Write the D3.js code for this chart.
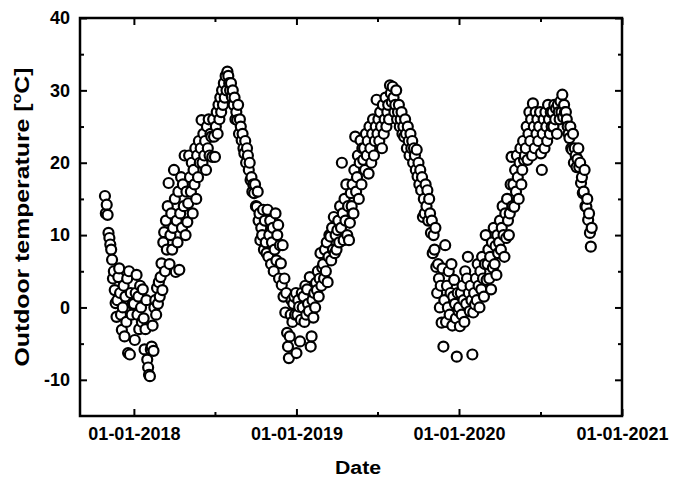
<!DOCTYPE html>
<html>
<head>
<meta charset="utf-8">
<script src="https://cdn.jsdelivr.net/npm/d3@7/dist/d3.min.js"></script>
<style>
html,body{margin:0;padding:0;background:#fff;}
svg{display:block;}
text{font-family:"Liberation Sans",Arial,sans-serif;font-weight:bold;fill:#000;}
</style>
</head>
<body>
<svg id="chart" width="673" height="477"></svg>
<script>
// ---- data: daily outdoor temperature, one reading every 2 days ----
const stepDays = 2;
const start2017 = "2017-10-28";
const temps2017 = [15.4,13,14.2,12.8,10.3,9.6,8.7,8,6.6,4,5,2.4,0.6,-1.3,1,4.2,5.4,2,-1,-3.1,0,3,-4,1.5,-2,4,-6.3,5,-6.5,2,-1,0.5];
const start2018 = "2018-01-01";
const temps2018 = [
0.5,-4.5,2,4.5,-1,1.5,-3,3,0,-2,2.5,-1.5,-5.8,-3,1,
-7.2,-8.3,-9.3,-9.5,-5.8,-5.4,-2.5,-6,0,1,-1,2.7,0.5,3.5,1.5,
4.2,6.1,2.4,9,10.4,5,12,8,14,17.2,6,10,13,8,11,
19,15,4.9,12,9,16,5.2,13,18,11,17,14,21,10,16,
11.8,14.4,21,18,16,20,13,19,17,22,15,21,18,23,20,
22,25.9,20,24,21,23,19,25,22,26,21,24,23.6,20.8,26,
23.6,20.8,25,27,24,28,26,29,27,30,28,31,29,32,30,
32.6,32,31,30,31,29.1,30,28,29,26,27,25.9,28,24,26,
25,23.1,24,22,21.3,23,20,22,21,19,20,17.6,18,16,17,
15.8,17,14,13.9,16,12,13,9.3,11,10,13.5,8,12,9,7.5,
13.5,7,10,12,6,9,11,5,8,13,6.5,10,11.4,4,8.6,
6.1,3.1,8.6,1.5,4,-0.7,2,-3.5,-5.4,-7,-4,-1,1,-2,0.5,
1.5,-1,2];
const start2019 = "2019-01-01";
const temps2019 = [
-6.3,-1,1,0.1,-4.7,-1.7,2,0,1.5,-2,3,-1,2.5,0.5,-0.5,
4.2,-5.4,-4,1,-1.4,2,0,3.4,2.4,5,1.5,4,7.5,3,5.5,
6,4,8,5,9,3.5,7,10,9.8,6.5,11,8,12.5,7.5,10,
8,10.7,12,9,14,11,20,13,9.3,15,12,17,10,14,9.3,
11.7,15.8,14,17,13,19,23.6,16,18,21,15,20,23.1,17,22,
20.4,22,19,24,21,23,18.5,25,22,20,24,26,21,23,25,
28.7,24,26,23,27,25,22,28,24,26,29,25,27,28,26,
30.7,29.6,28.4,30.5,29,27,28,30,26,27,28,25,26,27,24,
25,23.6,26,24,22,25,23,21,24,22,23,20,22,21,19,
21.8,18.1,20,17,19,16.2,18,12.5,15,13,17,14,16.2,12,15,
13,10.3,12,7.5,10,8,11,5.6,2,6,4,0,3,-2.1,5.4,
-5.4,1,8.6,-2,3,0,5,-1,2,6,-2.5,1.5,3.8,0.5,-1.5,
-6.8,2,-0.5];
const start2020 = "2020-01-01";
const temps2020 = [
0,-2.6,2,-1,3,1,-2,5,0.5,4,7,2,-0.5,3,1,
-6.5,-0.7,2,0.4,4,1,6,3,0,5,2.5,7,4,1.5,6,
10,3.8,6,8,4,7,2.5,9,5.5,11,6,8.5,4.5,10,7.5,
9,12,8,11,14,10,7,13,9.6,15,12,10,13,17,20.8,
14,17,13.9,19,16,21,18,15,20,22,17,19,23,20.4,21,
22,25,20.4,24,27,23,26,21,28.2,25,22,27,24,26,23,
25,27,21.3,19,24,26,22,27,25,23,28,26,24,27,25,
27,25,28,26,27.5,24,28,27,26,28.5,27,29.4,26.3,28,27,
27,26,25,24,23.4,25,22,21.8,24,20,22,21,19.4,20.5,22,
19.4,20,17.2,18,15.8,16,19,14,13.9,15,12.1,13,10.3,8.4,11];

const xDomain = ["2017-09-02", "2021-01-01"];
const xMajorTicks = ["2018-01-01", "2019-01-01", "2020-01-01", "2021-01-01"];
const xMajorLabels = ["01-01-2018", "01-01-2019", "01-01-2020", "01-01-2021"];
const xMinorTicks = ["2018-07-02", "2019-07-02", "2020-07-02"];
const yDomain = [-15, 40];
const yMajorTicks = [-10, 0, 10, 20, 30, 40];
const yMinorTicks = [-5, 5, 15, 25, 35];
const xTitle = "Date";

// ---- build ----
const parse = d3.utcParse("%Y-%m-%d");
const series = [[start2017, temps2017],[start2018, temps2018],[start2019, temps2019],[start2020, temps2020]];
const points = [];
series.forEach(([s, arr]) => {
  const d0 = parse(s);
  arr.forEach((t, i) => points.push({date: d3.utcDay.offset(d0, i * stepDays), t}));
});

const W = 673, H = 477;
const m = {left: 80, right: 51, top: 18, bottom: 61};
const svg = d3.select("#chart");

const x = d3.scaleUtc().domain(xDomain.map(parse)).range([m.left, W - m.right]);
const y = d3.scaleLinear().domain(yDomain).range([H - m.bottom, m.top]);

const plotW = W - m.left - m.right, plotH = H - m.top - m.bottom;

// points
svg.append("g")
  .selectAll("circle")
  .data(points)
  .join("circle")
  .attr("cx", d => x(d.date))
  .attr("cy", d => y(d.t))
  .attr("r", 5)
  .attr("fill", "#fff")
  .attr("stroke", "#000")
  .attr("stroke-width", 2.2);

const majorX = xMajorTicks.map(parse), minorX = xMinorTicks.map(parse);
const fmt = (d) => xMajorLabels[majorX.findIndex(v => +v === +d)];

function styleAxis(g){
  g.select(".domain").remove();
  g.selectAll(".tick line").attr("stroke", "#000").attr("stroke-width", 2);
}

// bottom axis
svg.append("g").attr("transform", `translate(0,${H - m.bottom})`)
  .call(d3.axisBottom(x).tickValues(majorX).tickSize(-7).tickPadding(11).tickFormat(fmt))
  .call(styleAxis)
  .call(g => g.selectAll("text").attr("font-size", 18).attr("font-family", null).attr("fill", "#000"));
svg.append("g").attr("transform", `translate(0,${H - m.bottom})`)
  .call(d3.axisBottom(x).tickValues(minorX).tickSize(-4).tickFormat(""))
  .call(styleAxis);
// top axis
svg.append("g").attr("transform", `translate(0,${m.top})`)
  .call(d3.axisTop(x).tickValues(majorX).tickSize(-7).tickFormat(""))
  .call(styleAxis);
svg.append("g").attr("transform", `translate(0,${m.top})`)
  .call(d3.axisTop(x).tickValues(minorX).tickSize(-4).tickFormat(""))
  .call(styleAxis);
// left axis
svg.append("g").attr("transform", `translate(${m.left},0)`)
  .call(d3.axisLeft(y).tickValues(yMajorTicks).tickSize(-7).tickPadding(10).tickFormat(d => String(d)))
  .call(styleAxis)
  .call(g => g.selectAll("text").attr("font-size", 18).attr("font-family", null).attr("fill", "#000"));
svg.append("g").attr("transform", `translate(${m.left},0)`)
  .call(d3.axisLeft(y).tickValues(yMinorTicks).tickSize(-4).tickFormat(""))
  .call(styleAxis);
// right axis
svg.append("g").attr("transform", `translate(${W - m.right},0)`)
  .call(d3.axisRight(y).tickValues(yMajorTicks).tickSize(-7).tickFormat(""))
  .call(styleAxis);
svg.append("g").attr("transform", `translate(${W - m.right},0)`)
  .call(d3.axisRight(y).tickValues(yMinorTicks).tickSize(-4).tickFormat(""))
  .call(styleAxis);

// frame
svg.append("rect")
  .attr("x", m.left).attr("y", m.top).attr("width", plotW).attr("height", plotH)
  .attr("fill", "none").attr("stroke", "#000").attr("stroke-width", 2.5);

// axis titles
svg.append("text")
  .attr("transform", "translate(358,474) scale(1.12,1)")
  .attr("text-anchor", "middle").attr("font-size", 19)
  .text(xTitle);

const yt = svg.append("text")
  .attr("transform", `translate(29,${m.top + plotH / 2}) rotate(-90) scale(1.24,1)`)
  .attr("text-anchor", "middle").attr("font-size", 20);
yt.append("tspan").text("Outdoor temperature [");
yt.append("tspan").attr("font-size", 13).attr("dy", -8).text("o");
yt.append("tspan").attr("dy", 8).text("C]");
</script>
</body>
</html>
